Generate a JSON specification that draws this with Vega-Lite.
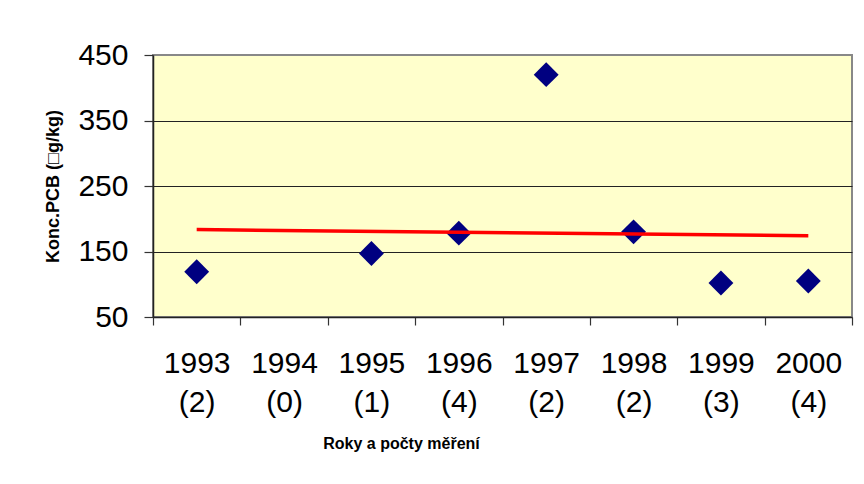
{
  "$schema": "https://vega.github.io/schema/vega-lite/v6.json",
  "autosize": {"type": "none"},
  "width": 699,
  "height": 262,
  "padding": {"left": 153, "top": 55, "right": 12, "bottom": 167},
  "background": "#FFFFFF",
  "config": {
    "view": {"fill": "#FFFFCC", "stroke": "#888888", "strokeWidth": 2},
    "axis": {
      "labelFont": "Liberation Sans",
      "titleFont": "Liberation Sans",
      "labelColor": "#000000",
      "titleColor": "#000000",
      "domainColor": "#222222",
      "domainWidth": 1.5,
      "tickColor": "#333333",
      "tickWidth": 1.2
    }
  },
  "datasets": {
    "obs": [
      {"cat": "1993|(2)", "pcb": 119},
      {"cat": "1994|(0)", "pcb": null},
      {"cat": "1995|(1)", "pcb": 147},
      {"cat": "1996|(4)", "pcb": 178},
      {"cat": "1997|(2)", "pcb": 420},
      {"cat": "1998|(2)", "pcb": 180},
      {"cat": "1999|(3)", "pcb": 102},
      {"cat": "2000|(4)", "pcb": 105}
    ],
    "trend": [
      {"cat": "1993|(2)", "trend": 183.4},
      {"cat": "2000|(4)", "trend": 174.2}
    ]
  },
  "encoding": {
    "x": {
      "field": "cat",
      "type": "ordinal",
      "sort": null,
      "scale": {
        "type": "band",
        "domain": ["1993|(2)", "1994|(0)", "1995|(1)", "1996|(4)", "1997|(2)", "1998|(2)", "1999|(3)", "2000|(4)"],
        "paddingInner": 0,
        "paddingOuter": 0
      },
      "axis": {
        "title": "Roky a počty měření",
        "labelExpr": "split(datum.label, '|')",
        "labelAngle": 0,
        "labelFontSize": 30,
        "labelLineHeight": 39,
        "labelBaseline": "top",
        "labelPadding": 23,
        "labelOverlap": false,
        "tickBand": "extent",
        "tickSize": 8,
        "titleFontSize": 16,
        "titleFontWeight": "bold",
        "titleX": 248,
        "titleY": 126,
        "titleAlign": "center",
        "titleBaseline": "middle"
      }
    }
  },
  "layer": [
    {
      "data": {"name": "obs"},
      "mark": {"type": "point", "shape": "diamond", "filled": true, "color": "#000080", "size": 620, "opacity": 1},
      "encoding": {
        "y": {
          "field": "pcb",
          "type": "quantitative",
          "scale": {"domain": [50, 450], "nice": false, "zero": false},
          "axis": {
            "title": "Konc.PCB (□g/kg)",
            "values": [50, 150, 250, 350, 450],
            "labelFontSize": 30,
            "labelPadding": 16,
            "tickSize": 9,
            "grid": true,
            "gridColor": {"condition": {"test": "datum.value > 50 && datum.value < 450", "value": "#222222"}, "value": "transparent"},
            "gridWidth": 1,
            "titleFontSize": 18,
            "titleFontWeight": "bold",
            "titleX": -100,
            "titleY": 131,
            "titleAngle": -90,
            "titleAlign": "center",
            "titleBaseline": "middle"
          }
        }
      }
    },
    {
      "data": {"name": "trend"},
      "mark": {"type": "line", "color": "#FF0000", "strokeWidth": 3.5},
      "encoding": {
        "y": {"field": "trend", "type": "quantitative"}
      }
    }
  ]
}
